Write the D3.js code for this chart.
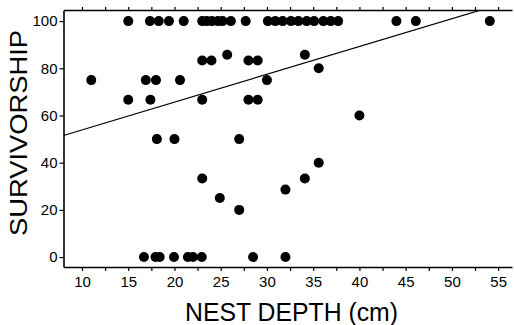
<!DOCTYPE html>
<html>
<head>
<meta charset="utf-8">
<script src="https://cdn.jsdelivr.net/npm/d3@7"></script>
<style>
  body { margin: 0; background: #fff; }
  svg { display: block; font-family: "Liberation Sans", Arial, sans-serif; }
</style>
</head>
<body>
<svg id="chart" width="514" height="325"></svg>
<script>
// nest depth (cm) and survivorship (%) for each nest
var nestDepth = [
    15.0, 17.35, 18.3, 19.4, 21.0, 23.0, 23.5, 24.05, 24.7, 25.2, 26.1, 27.7,
    30.1, 30.9, 31.7, 32.6, 33.4, 34.3, 35.1, 36.1, 36.9, 37.7, 44.0, 46.1, 54.1,
    23.0, 24.0, 25.7, 28.0, 29.0, 34.1, 35.6,
    11.0, 16.9, 18.0, 20.6, 30.0,
    15.0, 17.4, 23.0, 28.0, 29.0,
    40.0,
    18.1, 20.0, 27.0,
    23.0, 34.1, 35.6, 32.0, 24.9, 27.0,
    16.7, 17.95, 18.4, 19.95, 21.45, 22.0, 22.95, 28.5, 32.0
]
var survivorship = [
    100, 100, 100, 100, 100, 100, 100, 100, 100, 100, 100, 100,
    100, 100, 100, 100, 100, 100, 100, 100, 100, 100, 100, 100, 100,
    83.3, 83.3, 85.7, 83.3, 83.3, 85.7, 80,
    75, 75, 75, 75, 75,
    66.7, 66.7, 66.7, 66.7, 66.7,
    60,
    50, 50, 50,
    33.3, 33.3, 40, 28.6, 25, 20,
    0, 0, 0, 0, 0, 0, 0, 0, 0
]

// fitted regression line
var fitIntercept = 42.1
var fitSlope = 1.178

var xTicks = d3.range(10, 55.01, 2.5)
var yTicks = [0, 20, 40, 60, 80, 100]

var points = nestDepth.map((d, i) => ({ depth: d, surv: survivorship[i] }))

var svg = d3.select("#chart")

var x = d3.scaleLinear().domain([8, 56.5]).range([63.5, 512]),
    y = d3.scaleLinear().domain([-4.2, 104.7]).range([267, 10])

svg.append("defs").append("clipPath")
    .attr("id", "plotClip")
    .append("rect")
    .attr("x", x.range()[0])
    .attr("y", y.range()[1])
    .attr("width", x.range()[1] - x.range()[0])
    .attr("height", y.range()[0] - y.range()[1])

// bottom axis
svg.append("g")
    .attr("transform", "translate(0," + y.range()[0] + ")")
    .call(d3.axisBottom(x)
        .tickValues(xTicks)
        .tickSize(4)
        .tickSizeOuter(0)
        .tickPadding(5)
        .tickFormat(d => d % 5 === 0 ? d : ""))

// top frame with ticks
svg.append("g")
    .attr("transform", "translate(0," + y.range()[1] + ")")
    .call(d3.axisTop(x)
        .tickValues(xTicks)
        .tickSize(3)
        .tickSizeOuter(0)
        .tickFormat(""))

// left axis
svg.append("g")
    .attr("transform", "translate(" + x.range()[0] + ",0)")
    .call(d3.axisLeft(y)
        .tickValues(yTicks)
        .tickSize(4)
        .tickSizeOuter(0)
        .tickPadding(2))

svg.selectAll(".domain").attr("stroke", "#000").attr("stroke-width", 1.6)
svg.selectAll(".tick line").attr("stroke", "#000").attr("stroke-width", 1.2)
svg.selectAll(".tick text")
    .attr("fill", "#000")
    .style("font-size", "15px")
    .style("font-family", "'Liberation Sans', Arial, sans-serif")

// regression line
svg.append("line")
    .attr("clip-path", "url(#plotClip)")
    .attr("x1", x(x.domain()[0]))
    .attr("y1", y(fitIntercept + fitSlope * x.domain()[0]))
    .attr("x2", x(x.domain()[1]))
    .attr("y2", y(fitIntercept + fitSlope * x.domain()[1]))
    .attr("stroke", "#000")
    .attr("stroke-width", 1.2)

// points
svg.append("g")
    .selectAll("circle")
    .data(points)
    .enter()
    .append("circle")
    .attr("cx", d => x(d.depth))
    .attr("cy", d => y(d.surv))
    .attr("r", 5)
    .attr("fill", "#000")

// axis titles
svg.append("text")
    .attr("x", 291.5)
    .attr("y", 321)
    .attr("text-anchor", "middle")
    .attr("textLength", 213)
    .attr("lengthAdjust", "spacingAndGlyphs")
    .style("font-size", "25px")
    .text("NEST DEPTH (cm)")

svg.append("text")
    .attr("transform", "translate(27,133) rotate(-90)")
    .attr("text-anchor", "middle")
    .attr("textLength", 206)
    .attr("lengthAdjust", "spacingAndGlyphs")
    .style("font-size", "24px")
    .text("SURVIVORSHIP")
</script>
</body>
</html>
